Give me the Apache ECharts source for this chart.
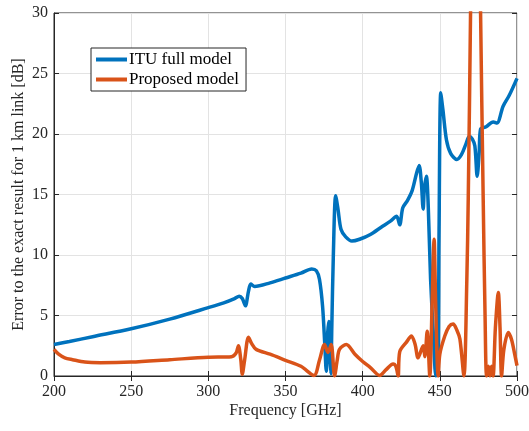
<!DOCTYPE html>
<html>
<head>
<meta charset="utf-8">
<script src="https://cdn.jsdelivr.net/npm/echarts@6/dist/echarts.min.js"></script>
<style>
html, body { margin: 0; padding: 0; background: #fff; }
#chart { width: 529px; height: 431px; }
</style>
</head>
<body>
<div id="chart"></div>
<script>
// [frequency GHz, error dB]
var ituFreq = [200, 210, 225, 250, 275, 300, 310, 317, 320, 322, 324, 326, 327.5, 330, 340, 350, 360, 367, 370, 372, 374, 375.5, 376.4, 377.3, 378, 378.8, 379.4, 380, 381, 382.5, 384, 386, 389, 393, 398, 405, 412, 418, 422, 424, 426, 429, 432, 435, 436.6, 438, 439.2, 440, 441.3, 442.5, 444, 446, 447.5, 448.8, 449.5, 450.6, 452, 454.3, 457, 461, 464, 467, 469, 471, 472.7, 474.2, 475.5, 476.4, 480, 484.6, 487, 491, 495, 500];
var ituErr = [2.6, 2.85, 3.25, 3.9, 4.7, 5.65, 6.05, 6.4, 6.6, 6.4, 5.8, 7.0, 7.6, 7.4, 7.7, 8.1, 8.5, 8.85, 8.7, 8.0, 5.8, 2.5, 0.4, 3.5, 4.5, 1.5, 0.2, 4, 10, 14.9, 13.8, 12.1, 11.5, 11.15, 11.3, 11.7, 12.3, 12.8, 13.2, 12.5, 13.9, 14.5, 15.3, 16.8, 17.4, 16, 13.8, 15.5, 16.5, 14, 8, 3, 0, 0.3, 12, 23.4, 22, 19.5, 18.4, 17.9, 18.3, 19.2, 19.8, 19.6, 19.0, 16.5, 18.5, 20.4, 20.6, 21.0, 20.9, 22.3, 23.2, 24.6];

var propFreq = [200, 203, 207, 212, 220, 230, 250, 275, 300, 315, 318, 319.5, 321, 322, 323.5, 326, 328, 331, 340, 350, 360, 368.5, 372, 375.3, 377.5, 379.6, 381.8, 383.5, 385, 389.4, 395, 400, 405, 411, 415, 419.7, 421.5, 423, 424, 428.4, 431.6, 434, 435.9, 439.2, 440.3, 441.8, 443.5, 445, 446.3, 447.3, 448.9, 450, 453.2, 456, 458.6, 461, 463, 465.6, 467.5, 468.4, 469.9, 471, 475, 476.4, 478.1, 479.3, 480.3, 481.5, 482.5, 483.5, 484.5, 486, 487.9, 489, 490, 491.5, 494.4, 496.5, 498.5, 500];
var propErr = [2.2, 1.8, 1.5, 1.35, 1.15, 1.1, 1.15, 1.35, 1.55, 1.6, 1.9, 2.5, 1.4, 0.15, 1.3, 3.2, 2.7, 2.2, 1.8, 1.3, 0.8, 0.05, 1.3, 2.6, 1.95, 2.6, 0, 1.3, 2.2, 2.6, 1.8, 1.2, 0.7, 0.05, 0.5, 1.0, 0.8, 0, 2.0, 2.8, 3.3, 2.6, 1.5, 2.5, 1.6, 3.7, 0, 6, 11.3, 6, 0, 1.8, 3.3, 4.1, 4.3, 3.8, 3.05, 0, 8, 14.6, 30, 45, 45, 30, 14.6, 5, 0, 0.8, 0, 0.8, 0, 4, 6.9, 4, 0, 2.2, 3.6, 3, 1.8, 0.85];

var xTicks = [200, 250, 300, 350, 400, 450, 500];
var yTicks = [0, 5, 10, 15, 20, 25, 30];

function pairs(xs, ys) {
  return xs.map(function (x, i) { return [x, ys[i]]; });
}

var font = "'Liberation Serif', 'Times New Roman', serif";
var myChart = echarts.init(document.getElementById('chart'));

var tickStyle = { inside: true, length: 5, lineStyle: { color: '#262626' } };
var gridLine = { show: true, lineStyle: { color: '#e3e3e3', width: 1 } };

myChart.setOption({
  animation: false,
  grid: {
    left: 54, right: 12, top: 13, bottom: 55,
    outerBoundsMode: 'none', containLabel: false,
    show: true, borderColor: '#262626', borderWidth: 1
  },
  legend: {
    orient: 'vertical',
    left: 91,
    top: 48,
    itemWidth: 31,
    itemHeight: 4,
    itemGap: 3,
    icon: 'rect',
    padding: [3, 7, 3, 5],
    borderColor: '#262626',
    borderWidth: 1,
    backgroundColor: '#fff',
    textStyle: { fontFamily: font, fontSize: 17, color: '#000', padding: [0, 0, 0, -3] },
    data: ['ITU full model', 'Proposed model']
  },
  xAxis: [{
    type: 'value',
    min: xTicks[0],
    max: xTicks[xTicks.length - 1],
    interval: 50,
    name: 'Frequency [GHz]',
    nameLocation: 'middle',
    nameGap: 27,
    nameMoveOverlap: false,
    nameTextStyle: { fontFamily: font, fontSize: 16, color: '#262626' },
    axisLine: { show: true, lineStyle: { color: '#262626' } },
    axisTick: tickStyle,
    axisLabel: { fontFamily: font, fontSize: 16, color: '#262626', margin: 8 },
    splitLine: gridLine
  }, {
    type: 'value',
    position: 'top',
    min: xTicks[0],
    max: xTicks[xTicks.length - 1],
    interval: 50,
    axisLine: { show: false },
    axisTick: tickStyle,
    axisLabel: { show: false },
    splitLine: { show: false }
  }],
  yAxis: [{
    type: 'value',
    min: yTicks[0],
    max: yTicks[yTicks.length - 1],
    interval: 5,
    name: 'Error to the exact result for 1 km link [dB]',
    nameLocation: 'middle',
    nameGap: 27,
    nameMoveOverlap: false,
    nameTextStyle: { fontFamily: font, fontSize: 16, color: '#262626' },
    axisLine: { show: true, lineStyle: { color: '#262626' } },
    axisTick: tickStyle,
    axisLabel: { fontFamily: font, fontSize: 16, color: '#262626', margin: 6 },
    splitLine: gridLine
  }, {
    type: 'value',
    position: 'right',
    min: yTicks[0],
    max: yTicks[yTicks.length - 1],
    interval: 5,
    axisLine: { show: false },
    axisTick: tickStyle,
    axisLabel: { show: false },
    splitLine: { show: false }
  }],
  series: [{
    name: 'ITU full model',
    type: 'line',
    data: pairs(ituFreq, ituErr),
    smooth: 0.3,
    showSymbol: false,
    clip: true,
    lineStyle: { color: '#0072BD', width: 3.5 },
    itemStyle: { color: '#0072BD' },
    z: 3
  }, {
    name: 'Proposed model',
    type: 'line',
    data: pairs(propFreq, propErr),
    smooth: 0.3,
    showSymbol: false,
    clip: true,
    lineStyle: { color: '#D95319', width: 3.5 },
    itemStyle: { color: '#D95319' },
    z: 4
  }]
});
window.addEventListener('resize', function () { myChart.resize(); });
</script>
</body>
</html>
